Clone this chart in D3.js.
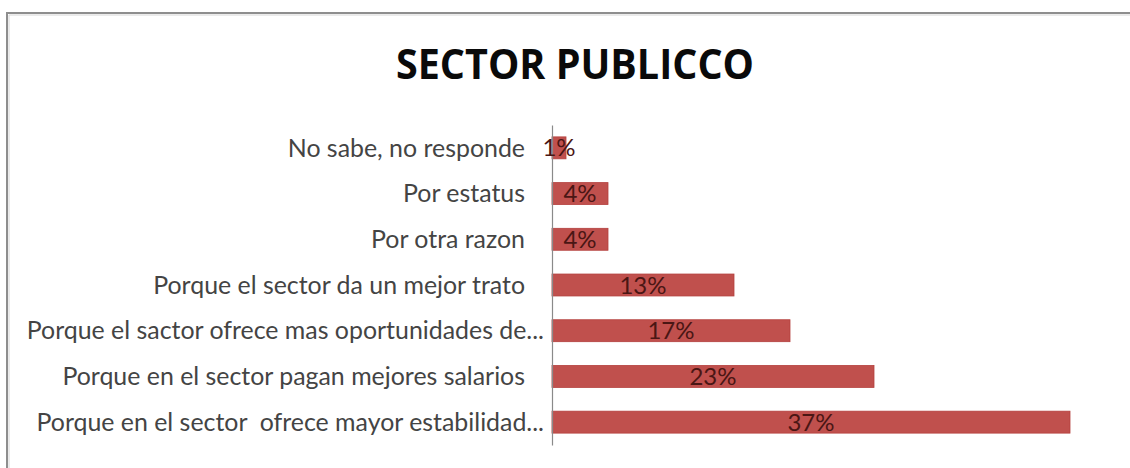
<!DOCTYPE html>
<html>
<head>
<meta charset="utf-8">
<script src="https://cdn.jsdelivr.net/npm/d3@7/dist/d3.min.js"></script>
<style>
  html, body { margin: 0; padding: 0; background: #ffffff; }
  svg { display: block; }
  svg text { white-space: pre; }
</style>
</head>
<body>
<svg id="chart" width="1130" height="468"></svg>
<script>
// Survey reasons for preferring the public sector (share of answers, %)
const title = "SECTOR PUBLICCO";
const categories = [
  "No sabe, no responde",
  "Por estatus",
  "Por otra razon",
  "Porque el sector da un mejor trato",
  "Porque el sactor ofrece mas oportunidades de...",
  "Porque en el sector pagan mejores salarios",
  "Porque en el sector  ofrece mayor estabilidad..."
];
const values = [1, 4, 4, 13, 17, 23, 37];
const valueLabels = ["1%", "4%", "4%", "13%", "17%", "23%", "37%"];

const svg = d3.select("#chart");
const W = 1130, H = 468;
const margin = { left: 552, top: 125, right: 18, bottom: 23 };

// chart area frame (top and left edges show)
svg.append("rect")
  .attr("x", 7).attr("y", 13)
  .attr("width", W + 20).attr("height", H + 20)
  .attr("fill", "#ffffff")
  .attr("stroke", "#8e8e8e")
  .attr("stroke-width", 2);
svg.append("line")
  .attr("x1", 9).attr("x2", W).attr("y1", 15).attr("y2", 15)
  .attr("stroke", "#d6d6d6").attr("stroke-width", 1);
svg.append("line")
  .attr("x1", 9).attr("x2", 9).attr("y1", 15).attr("y2", H)
  .attr("stroke", "#d6d6d6").attr("stroke-width", 1);

// title
svg.append("text")
  .attr("x", 575).attr("y", 79)
  .attr("text-anchor", "middle")
  .attr("font-family", "'Open Sans', Lato, sans-serif")
  .attr("font-weight", 700)
  .attr("font-size", 42)
  .attr("fill", "#0a0a0a")
  .attr("textLength", 358)
  .attr("lengthAdjust", "spacingAndGlyphs")
  .text(title);

const x = d3.scaleLinear()
  .domain([0, 40])
  .range([margin.left, margin.left + 560]);

const y = d3.scaleBand()
  .domain(categories)
  .range([margin.top, H - margin.bottom])
  .paddingInner(0.52)
  .paddingOuter(0.26);

// bars
svg.append("g")
  .selectAll("rect")
  .data(values)
  .join("rect")
  .attr("x", x(0))
  .attr("y", (d, i) => y(categories[i]))
  .attr("width", d => x(d) - x(0))
  .attr("height", y.bandwidth())
  .attr("fill", "#c0504d")
  .attr("stroke", "#b4403d")
  .attr("stroke-width", 0.8);

// category axis
const axis = svg.append("g")
  .attr("transform", `translate(${margin.left},0)`)
  .call(d3.axisLeft(y).tickSize(0).tickPadding(27));
axis.select(".domain")
  .attr("stroke", "#8a8a8a")
  .attr("stroke-width", 1.2);
axis.selectAll(".tick text")
  .attr("font-family", "Lato, 'Open Sans', sans-serif")
  .attr("font-size", 24.9)
  .attr("fill", "#444444")
  .attr("dy", "0.35em")
  .attr("dx", d => d.endsWith("...") ? 19 : 0);

// value labels centred in each bar
svg.append("g")
  .selectAll("text")
  .data(values)
  .join("text")
  .attr("x", d => (x(0) + x(d)) / 2)
  .attr("y", (d, i) => y(categories[i]) + y.bandwidth() / 2)
  .attr("dy", "0.36em")
  .attr("text-anchor", "middle")
  .attr("font-family", "Lato, 'Open Sans', sans-serif")
  .attr("font-size", 24)
  .attr("fill", "#4a1614")
  .text((d, i) => valueLabels[i]);
</script>
</body>
</html>
